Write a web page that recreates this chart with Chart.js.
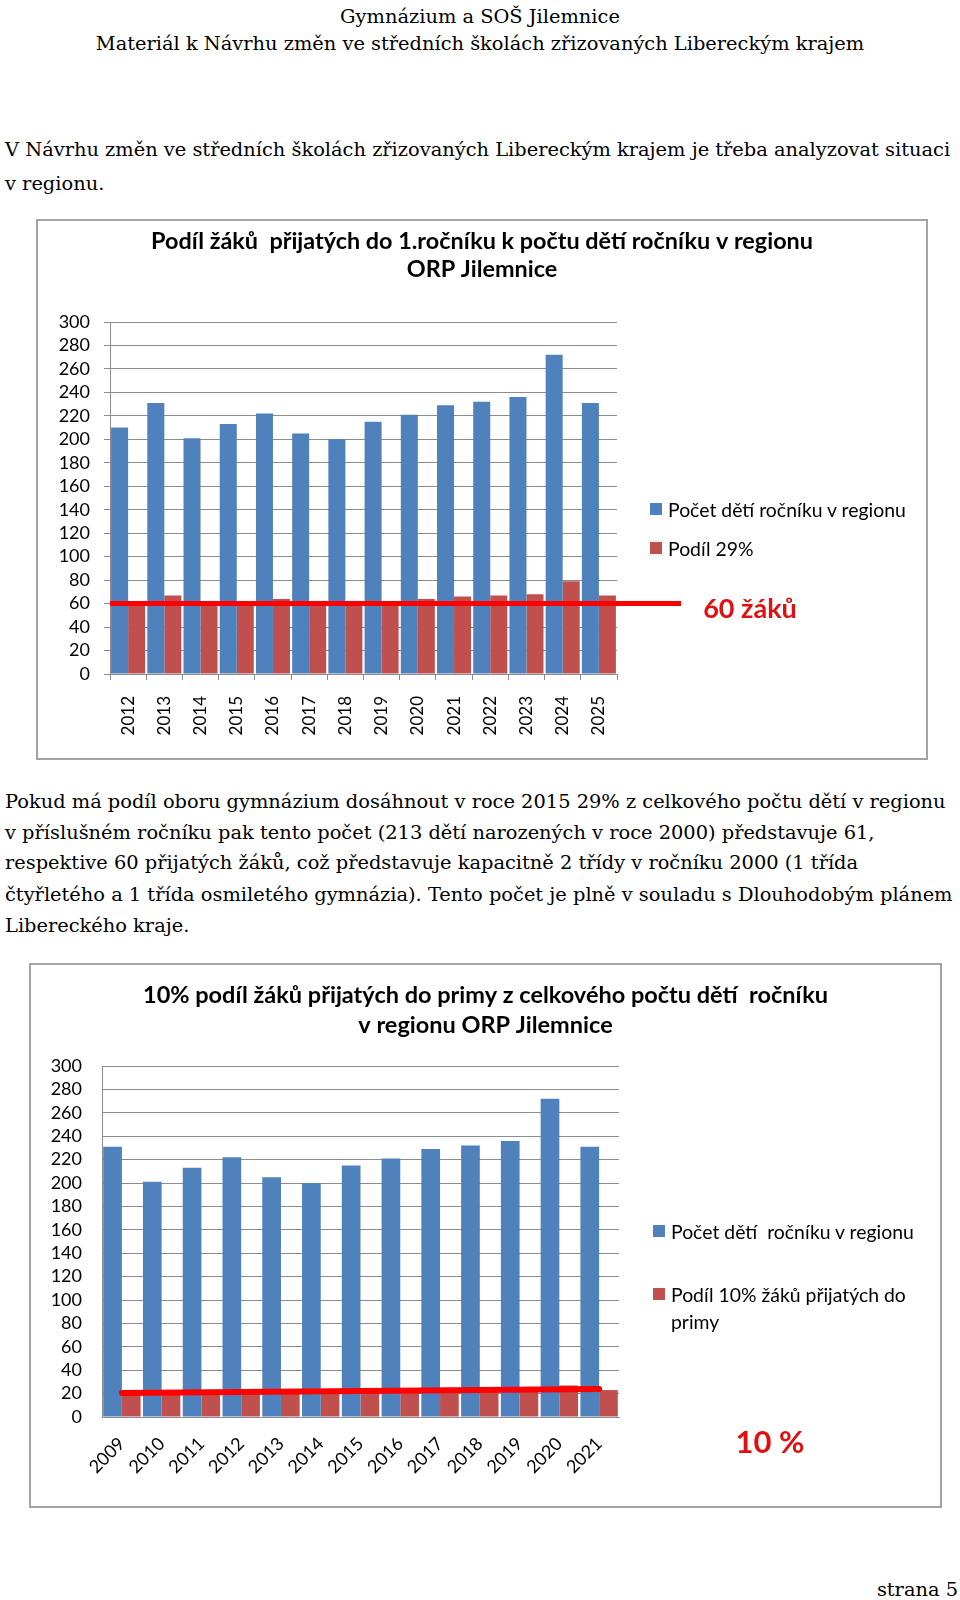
<!DOCTYPE html>
<html lang="cs">
<head>
<meta charset="utf-8">
<title>Podíl žáků – ORP Jilemnice</title>
<script src="https://cdn.jsdelivr.net/npm/chart.js@4.4.1/dist/chart.umd.min.js"></script>
<style>
  html, body { margin: 0; padding: 0; background: #fff; }
  body { width: 960px; height: 1600px; position: relative; overflow: hidden;
         font-family: "DejaVu Serif", serif; color: #000; }
  .doc { position: absolute; white-space: nowrap; font-size: 19.4px; line-height: 28px; left: 5px; }
  .center { left: 0; width: 960px; text-align: center; }
  .wrap { position: absolute; }
  .wrap canvas { position: absolute; left: 0; top: 0; }
  .frame { position: absolute; left: 0; top: 0; right: 0; bottom: 0; border: 2px solid #a3a3a3;
           box-sizing: border-box; pointer-events: none; }
  .legend { position: absolute; font-family: Lato, sans-serif; font-size: 19.4px; white-space: pre-wrap; }
  .legend .item { position: relative; padding-left: 18px; line-height: 27px; }
  .legend .sw { position: absolute; left: 0; top: 7px; width: 12px; height: 12px; }
  .note { position: absolute; font-family: Lato, sans-serif; font-weight: bold; color: #e01010;
          white-space: nowrap; transform: translate(-50%, -50%); }
</style>
</head>
<body>

<div class="doc center" style="top:3px">Gymnázium a SOŠ Jilemnice</div>
<div class="doc center" style="top:30px">Materiál k Návrhu změn ve středních školách zřizovaných Libereckým krajem</div>

<div class="doc" style="top:136px">V Návrhu změn ve středních školách zřizovaných Libereckým krajem je třeba analyzovat situaci</div>
<div class="doc" style="top:170px">v regionu.</div>

<div class="wrap" style="left:36px; top:219px; width:892px; height:541px">
  <canvas id="chart1" width="892" height="541"></canvas>
  <div class="frame"></div>
</div>
<div class="legend" id="legend1" style="left:650px; top:496px"></div>
<div class="note" style="left:750px; top:607px; font-size:27px">60 žáků</div>

<div class="doc" style="top:788px">Pokud má podíl oboru gymnázium dosáhnout v roce 2015 29% z celkového počtu dětí v regionu</div>
<div class="doc" style="top:819px">v příslušném ročníku pak tento počet (213 dětí narozených v roce 2000) představuje 61,</div>
<div class="doc" style="top:849px">respektive 60 přijatých žáků, což představuje kapacitně 2 třídy v ročníku 2000 (1 třída</div>
<div class="doc" style="top:881px">čtyřletého a 1 třída osmiletého gymnázia). Tento počet je plně v souladu s Dlouhodobým plánem</div>
<div class="doc" style="top:912px">Libereckého kraje.</div>

<div class="wrap" style="left:29px; top:963px; width:913px; height:545px">
  <canvas id="chart2" width="913" height="545"></canvas>
  <div class="frame"></div>
</div>
<div class="legend" id="legend2" style="left:653px; top:1218px; width:270px"></div>
<div class="note" style="left:770px; top:1441px; font-size:31px">10 %</div>

<div class="doc" style="left:auto; right:2px; top:1576px">strana 5</div>

<script>
// chart 1 - Podíl 29 %
const years1 = ['2012', '2013', '2014', '2015', '2016', '2017', '2018', '2019', '2020', '2021', '2022', '2023', '2024', '2025'];
const children1 = [210, 231, 201, 213, 222, 205, 200, 215, 221, 229, 232, 236, 272, 231];
const share29 = [61, 67, 58, 62, 64, 59, 58, 62, 64, 66, 67, 68, 79, 67];
const target60 = 60;

// chart 2 - Podíl 10 % (prima)
const years2 = ['2009', '2010', '2011', '2012', '2013', '2014', '2015', '2016', '2017', '2018', '2019', '2020', '2021'];
const children2 = [231, 201, 213, 222, 205, 200, 215, 221, 229, 232, 236, 272, 231];
const share10 = [23, 20, 21, 22, 21, 20, 22, 22, 23, 23, 24, 27, 23];
const trend10Start = 20.5;
const trend10End = 24;

const yMin = 0, yMax = 300, yStep = 20;

const BLUE = '#4f81bd';
const RED = '#c0504d';
const GRID = '#8c8c8c';

Chart.defaults.font.family = 'Lato';
Chart.defaults.color = '#000';

// red line drawn over the bars, like the shape in the document
const refLine = {
  id: 'refLine',
  afterDatasetsDraw(chart, args, o) {
    const xs = chart.scales.x, ys = chart.scales.y, ctx = chart.ctx;
    const x1 = o.startIndex == null ? chart.chartArea.left : xs.getPixelForValue(o.startIndex);
    const x2 = o.endIndex == null ? chart.chartArea.right + o.overhang : xs.getPixelForValue(o.endIndex);
    ctx.save();
    ctx.strokeStyle = '#ff0000';
    ctx.lineWidth = o.width;
    ctx.lineCap = o.cap || 'butt';
    ctx.beginPath();
    ctx.moveTo(x1, ys.getPixelForValue(o.startValue));
    ctx.lineTo(x2, ys.getPixelForValue(o.endValue));
    ctx.stroke();
    ctx.restore();
  }
};

function makeChart(id, labels, blue, red, labelBlue, labelRed, cfg) {
  return new Chart(document.getElementById(id), {
    type: 'bar',
    data: {
      labels: labels,
      datasets: [
        { label: labelBlue, data: blue, backgroundColor: BLUE },
        { label: labelRed, data: red, backgroundColor: RED }
      ]
    },
    plugins: [refLine],
    options: {
      responsive: false,
      animation: false,
      devicePixelRatio: 1,
      datasets: { bar: { categoryPercentage: 0.94, barPercentage: 1 } },
      plugins: {
        legend: { display: false },
        tooltip: { enabled: false },
        title: {
          display: true,
          text: cfg.title,
          color: '#000',
          font: { size: cfg.titleSize, weight: 'bold', lineHeight: cfg.titleLine / cfg.titleSize },
          padding: { top: cfg.titleTop, bottom: cfg.titleBottom }
        },
        refLine: cfg.line
      },
      scales: {
        x: {
          afterFit(s) { s.height = cfg.xHeight; },
          grid: { display: cfg.xTicks, drawOnChartArea: false, tickLength: 6, color: GRID },
          border: { display: true, color: GRID },
          ticks: { minRotation: cfg.rotation, maxRotation: cfg.rotation, padding: cfg.xPad,
                   autoSkip: false, font: { size: cfg.xFont }, color: '#000' }
        },
        y: {
          min: yMin, max: yMax,
          afterFit(s) { s.width = cfg.yWidth; },
          grid: { color: GRID, drawTicks: cfg.yTickLen > 0, tickLength: cfg.yTickLen },
          border: { display: true, color: GRID },
          ticks: { stepSize: yStep, padding: cfg.yPad, autoSkip: false, font: { size: 18 }, color: '#000' }
        },
        // empty space on the right where the legend sits
        side: {
          type: 'linear', position: 'right', display: true,
          afterFit(s) { s.width = cfg.padRight; },
          grid: { display: false }, border: { display: false }, ticks: { display: false }
        }
      }
    }
  });
}

function htmlLegend(chart, el, gap) {
  chart.data.datasets.forEach((ds, i) => {
    const item = document.createElement('div');
    item.className = 'item';
    if (i > 0) item.style.marginTop = gap + 'px';
    const sw = document.createElement('span');
    sw.className = 'sw';
    sw.style.background = ds.backgroundColor;
    item.appendChild(sw);
    item.appendChild(document.createTextNode(ds.label));
    el.appendChild(item);
  });
}

const chart1 = makeChart('chart1', years1, children1, share29,
  'Počet dětí ročníku v regionu', 'Podíl 29%', {
    padRight: 311, title: ['Podíl žáků  přijatých do 1.ročníku k počtu dětí ročníku v regionu', 'ORP Jilemnice'],
    titleSize: 23.4, titleLine: 28, titleTop: 8, titleBottom: 39,
    xHeight: 86, xTicks: true, rotation: 90, xPad: 16, xFont: 17,
    yWidth: 74, yTickLen: 6, yPad: 14,
    line: { startValue: target60, endValue: target60, overhang: 64, width: 5 }
  });

const chart2 = makeChart('chart2', years2, children2, share10,
  'Počet dětí  ročníku v regionu', 'Podíl 10% žáků přijatých do primy', {
    padRight: 323, title: ['10% podíl žáků přijatých do primy z celkového počtu dětí  ročníku', 'v regionu ORP Jilemnice'],
    titleSize: 23.5, titleLine: 30, titleTop: 17, titleBottom: 26,
    xHeight: 91, xTicks: false, rotation: 45, xPad: 10, xFont: 18,
    yWidth: 73, yTickLen: 0, yPad: 20,
    line: { startIndex: 0, endIndex: years2.length - 1, startValue: trend10Start, endValue: trend10End, width: 6, cap: 'round' }
  });

htmlLegend(chart1, document.getElementById('legend1'), 12);
htmlLegend(chart2, document.getElementById('legend2'), 36);
</script>
</body>
</html>
